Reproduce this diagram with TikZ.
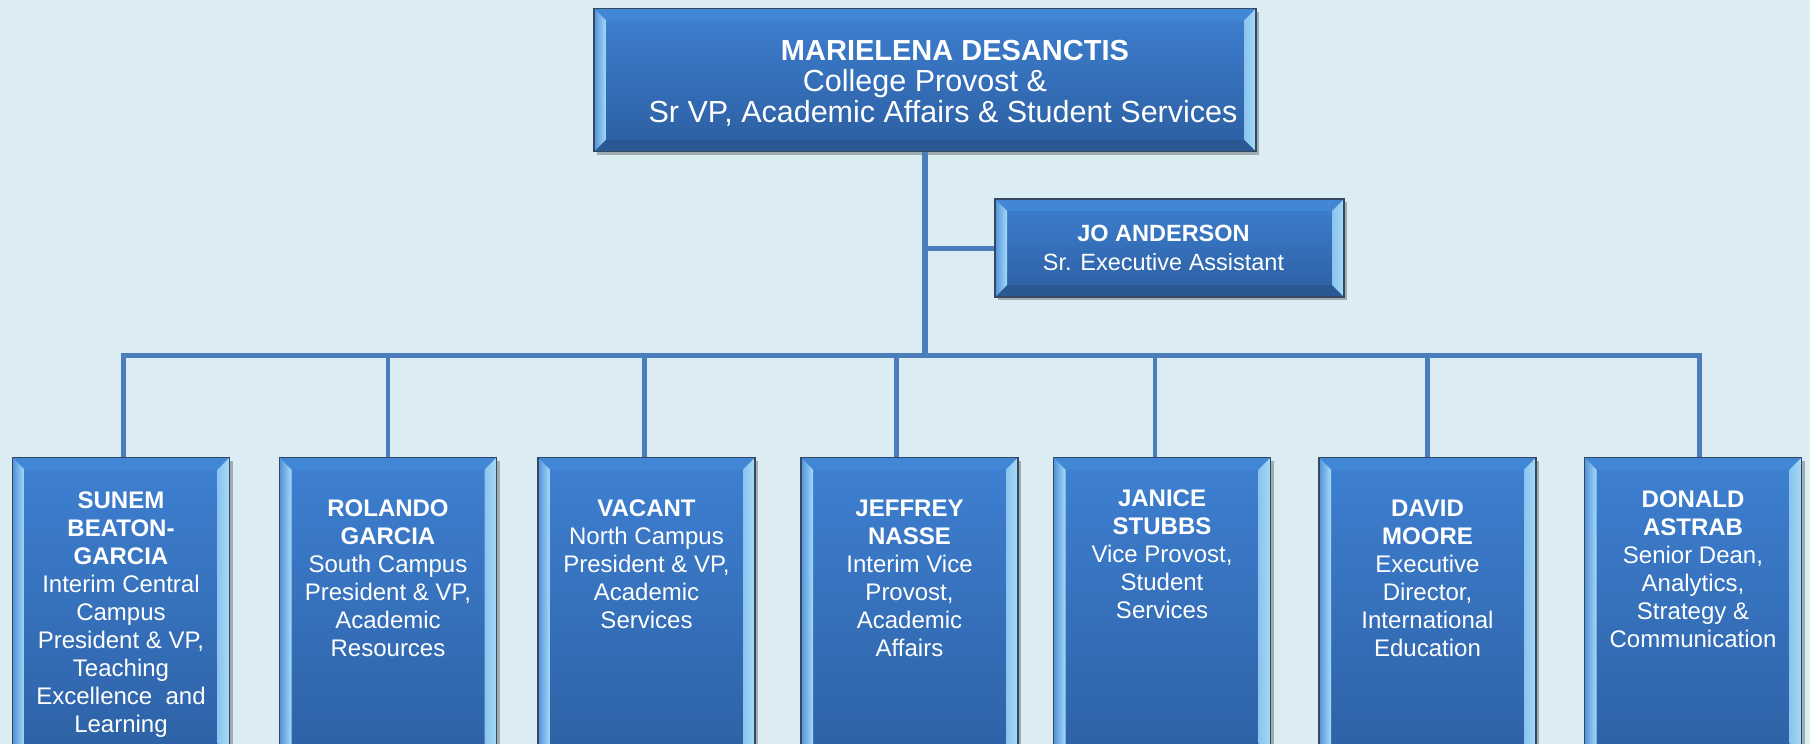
\documentclass[tikz,border=0pt]{standalone}
\usepackage{fontspec}
\setmainfont{Liberation Sans}
\usetikzlibrary{shadows}
\definecolor{bg}{RGB}{219,237,243}
\definecolor{ln}{RGB}{74,126,187}
\definecolor{btop}{RGB}{62,128,210}
\definecolor{bbot}{RGB}{44,94,160}
\definecolor{bevlight}{RGB}{165,218,248}
\definecolor{bevtop}{RGB}{66,134,214}
\definecolor{bevbot}{RGB}{42,88,146}
\definecolor{bord}{RGB}{52,72,98}
\def\bvz{12pt}
\tikzset{
  orgbox/.style={draw=bord, line width=1.2pt, top color=btop, bottom color=bbot,
    drop shadow={shadow xshift=3pt,shadow yshift=-3pt,opacity=.4,fill=black!70},
    inner sep=0pt,
    path picture={
      \path (path picture bounding box.north west) coordinate (pnw)
            (path picture bounding box.north east) coordinate (pne)
            (path picture bounding box.south west) coordinate (psw)
            (path picture bounding box.south east) coordinate (pse);
      \fill[bevtop] (pnw) -- (pne) -- ([xshift=-\bvz,yshift=-\bvz]pne) -- ([xshift=\bvz,yshift=-\bvz]pnw) -- cycle;
      \fill[bevbot] (psw) -- (pse) -- ([xshift=-\bvz,yshift=\bvz]pse) -- ([xshift=\bvz,yshift=\bvz]psw) -- cycle;
      \shade[left color=btop!80!bevlight, right color=bevlight] (pnw) -- ([xshift=\bvz,yshift=-\bvz]pnw) -- ([xshift=\bvz,yshift=\bvz]psw) -- (psw) -- cycle;
      \shade[left color=bevlight!75!btop, right color=bevlight] (pne) -- ([xshift=-\bvz,yshift=-\bvz]pne) -- ([xshift=-\bvz,yshift=\bvz]pse) -- (pse) -- cycle;
    }},
  txt/.style={text=white, align=center, inner sep=0pt},
  conn/.style={draw=ln, line width=5pt},
}
\begin{document}
\begin{tikzpicture}[x=1pt,y=-1pt]
\useasboundingbox (0,0) rectangle (1810,744);
\clip (0,0) rectangle (1810,744);
\fill[bg] (0,0) rectangle (1810,744);

% top
\node[orgbox, minimum width=662pt, minimum height=143pt] (top) at (925,80) {};
\node[txt, font=\fontsize{30.5}{31}\selectfont] (toptxt) at ([yshift=-3pt]top.center)
  {\hspace*{60pt}{\fontsize{29}{31}\selectfont\textbf{MARIELENA DESANCTIS}}\\College Provost \&\\\hspace*{36pt}Sr VP, Academic Affairs \& Student Services};

% assistant
\node[orgbox, minimum width=349pt, minimum height=98pt] (jo) at (1169.5,248) {};
\node[txt, font=\fontsize{23.5}{29}\selectfont] (jotxt) at ([xshift=-6pt]jo.center)
  {\textbf{JO ANDERSON}\\Sr. Executive Assistant};

% bottom boxes
\foreach \n/\cx in {b1/121, b2/388, b3/646.5, b4/909.5, b5/1162, b6/1427.5, b7/1693}{
  \node[orgbox, minimum width=217pt, minimum height=330pt, anchor=north] (\n) at (\cx,457) {};
}
\tikzset{btxt/.style={txt, anchor=north, font=\fontsize{24}{28}\selectfont}}
\node[btxt] (t1) at ([yshift=-35pt]b1.north) {\textbf{SUNEM}\\\textbf{BEATON-}\\\textbf{GARCIA}\\Interim Central\\Campus\\President \& VP,\\Teaching\\Excellence\ \ and\\Learning};
\node[btxt] (t2) at ([yshift=-43pt]b2.north) {\textbf{ROLANDO}\\\textbf{GARCIA}\\South Campus\\President \& VP,\\Academic\\Resources};
\node[btxt] (t3) at ([yshift=-43pt]b3.north) {\textbf{VACANT}\\North Campus\\President \& VP,\\Academic\\Services};
\node[btxt] (t4) at ([yshift=-43pt]b4.north) {\textbf{JEFFREY}\\\textbf{NASSE}\\Interim Vice\\Provost,\\Academic\\Affairs};
\node[btxt] (t5) at ([yshift=-33pt]b5.north) {\textbf{JANICE}\\\textbf{STUBBS}\\Vice Provost,\\Student\\Services};
\node[btxt] (t6) at ([yshift=-43pt]b6.north) {\textbf{DAVID}\\\textbf{MOORE}\\Executive\\Director,\\International\\Education};
\node[btxt] (t7) at ([yshift=-34pt]b7.north) {\textbf{DONALD}\\\textbf{ASTRAB}\\Senior Dean,\\Analytics,\\Strategy \&\\Communication};

% connectors
\coordinate (bar) at (0,355);
\draw[conn, line width=6pt] (top.south) -- (top.south |- bar);
\draw[conn] (top.south |- jo.west) -- (jo.west);
\draw[conn] ([xshift=2pt]b1.north) |- ([xshift=6pt]b7.north |- bar) -- ([xshift=6pt]b7.north);
\draw[conn, line width=4.5pt] (b2.north |- bar) -- (b2.north);
\draw[conn, line width=4.5pt] ([xshift=-2pt]b3.north |- bar) -- ([xshift=-2pt]b3.north);
\draw[conn, line width=4.5pt] ([xshift=-13pt]b4.north |- bar) -- ([xshift=-13pt]b4.north);
\draw[conn, line width=4.5pt] ([xshift=-7pt]b5.north |- bar) -- ([xshift=-7pt]b5.north);
\draw[conn, line width=4.5pt] (b6.north |- bar) -- (b6.north);
\end{tikzpicture}
\end{document}
